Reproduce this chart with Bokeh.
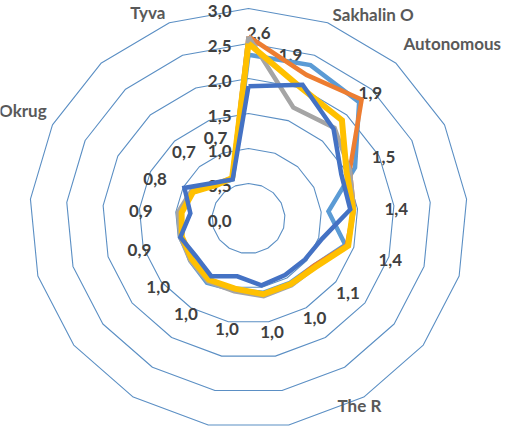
import numpy as np
from bokeh.plotting import figure
from bokeh.models import Range1d
from bokeh.core.properties import value
from bokeh.embed import file_html
from bokeh.resources import INLINE

# ---------------- data ----------------
categories = ["", "Sakhalin O", "Autonomous", "", "", "", "", "The R", "", "",
              "", "", "", "", "Okrug", "", "Tyva"]
series_a = [2.34, 2.35, 2.25, 1.63, 1.10, 1.38, 1.12, 1.08, 1.08, 1.04, 1.08, 1.00, 0.95, 0.93, 0.85, 0.65, 0.60]  # light blue
series_b = [2.60, 2.20, 2.30, 1.55, 1.45, 1.40, 1.12, 1.10, 1.10, 1.03, 1.03, 0.98, 0.95, 0.95, 0.85, 0.66, 0.62]  # orange
series_c = [2.60, 1.70, 1.75, 1.55, 1.45, 1.42, 1.15, 1.12, 1.13, 1.06, 1.06, 1.00, 0.97, 0.97, 0.88, 0.68, 0.62]  # grey
series_d = [2.50, 2.00, 1.90, 1.50, 1.44, 1.42, 1.15, 1.10, 1.10, 1.02, 1.03, 0.97, 0.95, 0.92, 0.85, 0.65, 0.62]  # yellow
series_e = [1.89, 2.05, 1.73, 1.42, 1.40, 1.05, 0.97, 0.95, 0.97, 0.84, 0.97, 0.90, 0.97, 0.80, 0.98, 0.69, 0.60]  # dark blue
label_vals = [2.6, 1.9, 1.9, 1.5, 1.4, 1.4, 1.1, 1.0, 1.0, 1.0, 1.0, 1.0, 0.9, 0.9, 0.8, 0.7, 0.7]
ring_levels = [0.5, 1.0, 1.5, 2.0, 2.5, 3.0]
tick_vals = [0.0, 0.5, 1.0, 1.5, 2.0, 2.5, 3.0]

# ---------------- styling / layout ----------------
colors = ["#5B9BD5", "#ED7D31", "#A5A5A5", "#FFC000", "#4472C4"]
widths = [4.5, 4.5, 4.5, 6, 4.5]
lab_dr = [0.06, 0.5, 0.55, 0.55, 0.63, 0.63, 0.63, 0.68, 0.66, 0.61, 0.61, 0.58, 0.66, 0.58, 0.6, 0.6, 0.53]
lab_da = [3, -7.3, 0.6, 0.9, 1.3, 1.1, 1, -0.8, -0.6, 0, 0.4, -1.4, -0.8, -1.3, -2.5, -0.5, -0.4]
cat_style = {1: ("left", 1, 2), 2: ("left", 0, -12), 7: ("left", -32, 0),
             14: ("right", 4, -10), 16: ("right", 0, 0)}
FONT = value("Lato")
FS = "17px"

N = len(categories)
ang = np.arange(N) * 2 * np.pi / N


def polar(vals, dr=0.0, da=0.0):
    v = np.asarray(vals, dtype=float) + dr
    a = ang + np.radians(da)
    return v * np.sin(a), v * np.cos(a)


p = figure(width=505, height=427, x_range=Range1d(-3.3973, 3.5205),
           y_range=Range1d(-2.9857, 3.1143), output_backend="svg",
           toolbar_location=None, min_border=0)
p.axis.visible = False
p.grid.visible = False
p.outline_line_color = None
p.background_fill_color = "white"

# rings
for lv in ring_levels:
    x, y = polar([lv] * N)
    p.line(list(x) + [x[0]], list(y) + [y[0]], line_color="#5B8FC4", line_width=1.1)

# tick labels
p.text(x=[0] * len(tick_vals), y=tick_vals,
       text=[f"{t:.1f}".replace(".", ",") for t in tick_vals],
       x_offset=-17, y_offset=2, text_align="right", text_baseline="middle",
       text_font=FONT, text_font_style="bold", text_font_size=FS, text_color="#404040")

# data labels
lx, ly = polar(label_vals, np.array(lab_dr), np.array(lab_da))
p.text(x=list(lx), y=list(ly), text=[f"{v:.1f}".replace(".", ",") for v in label_vals],
       text_align="center", text_baseline="middle",
       text_font=FONT, text_font_style="bold", text_font_size=FS, text_color="#404040")

# category labels
cx, cy = polar([3.15] * N)
for i, name in enumerate(categories):
    if not name:
        continue
    al, xo, yo = cat_style.get(i, ("center", 0, 0))
    p.text(x=[cx[i]], y=[cy[i]], text=[name], text_align=al, text_baseline="middle",
           x_offset=xo, y_offset=yo, text_font=FONT, text_font_style="bold",
           text_font_size=FS, text_color="#595959")

# series
for vals, c, w in zip([series_a, series_b, series_c, series_d, series_e], colors, widths):
    x, y = polar(vals)
    p.line(list(x) + [x[0]], list(y) + [y[0]], line_color=c, line_width=w, line_join="miter")

open("out.html", "w").write(file_html(p, INLINE))
